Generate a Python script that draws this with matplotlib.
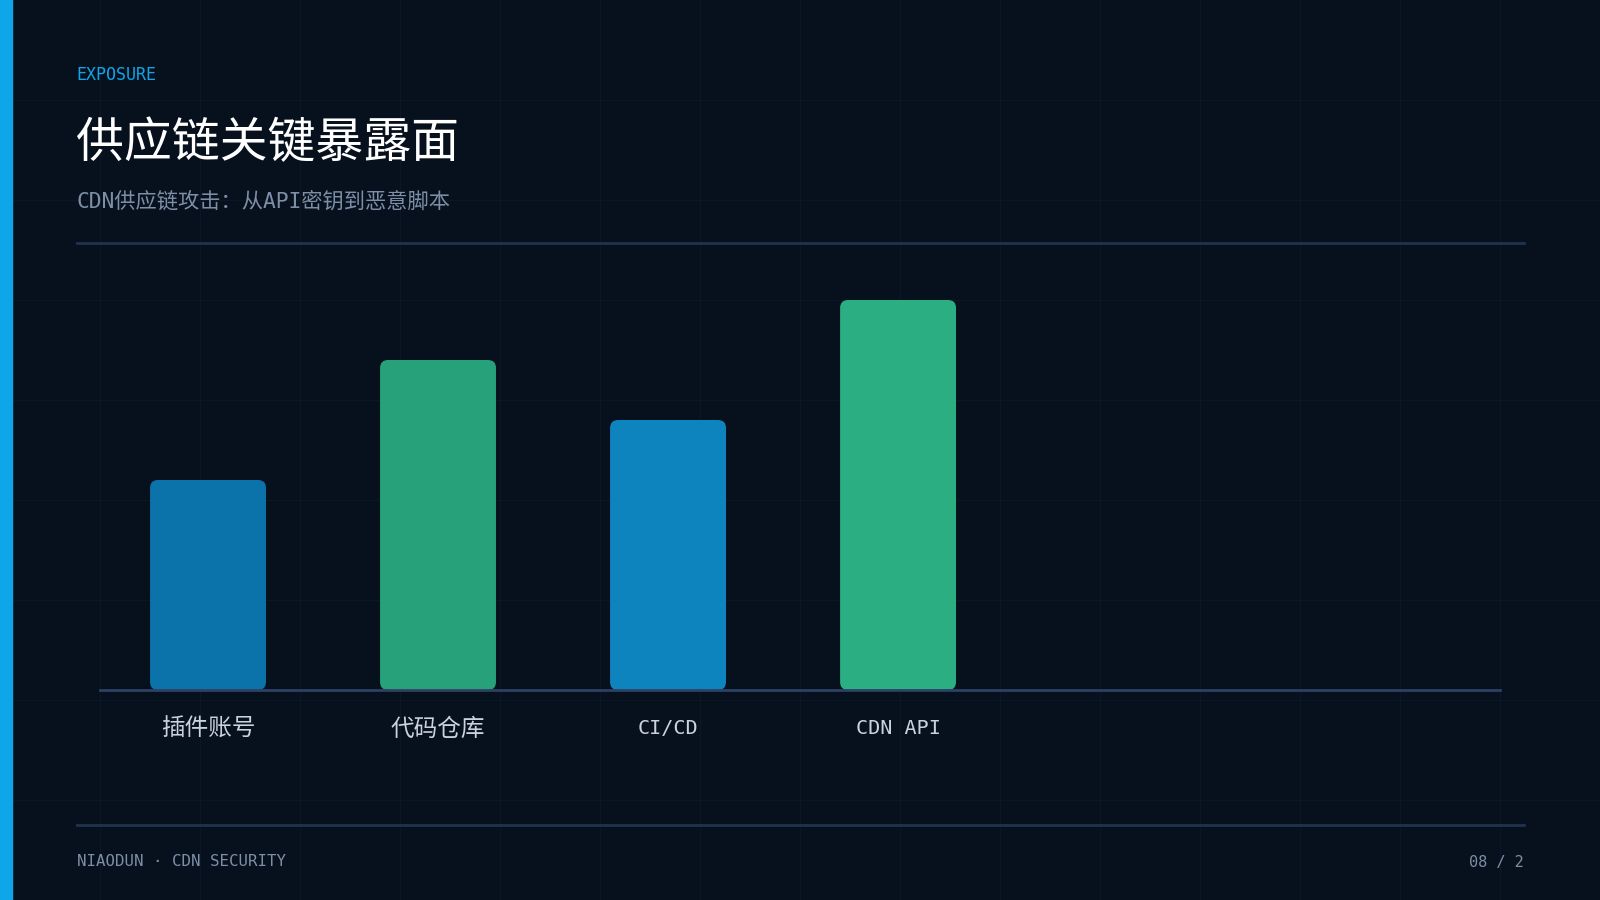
import matplotlib
matplotlib.use("Agg")
import matplotlib.pyplot as plt
from matplotlib.patches import FancyBboxPatch, Rectangle
from matplotlib.lines import Line2D

# fonts: mono latin first, CJK fallback
plt.rcParams['font.family'] = ['DejaVu Sans Mono', 'Noto Sans CJK SC']

# data
categories = ['插件账号', '代码仓库', 'CI/CD', 'CDN API']
values = [35, 55, 45, 65]
bar_colors = ['#0b73aa', '#27a17a', '#0e84be', '#2aae82']

kicker = 'EXPOSURE'
title = '供应链关键暴露面'
subtitle = 'CDN供应链攻击：从API密钥到恶意脚本'
footer_left = 'NIAODUN · CDN SECURITY'
footer_right = '08 / 2'

BG = '#07101d'
W, H = 1600, 900

fig = plt.figure(figsize=(16, 9), dpi=100)
fig.patch.set_facecolor(BG)


def fx(x):
    return x / W


def fy(y):
    return 1 - y / H


# faint background grid, every 100px
for gx in range(100, W, 100):
    fig.add_artist(Line2D([fx(gx)] * 2, [0, 1], color='#0b1726', lw=1, zorder=0))
for gy in range(100, H, 100):
    fig.add_artist(Line2D([0, 1], [fy(gy)] * 2, color='#0b1726', lw=1, zorder=0))

# left accent stripe
fig.add_artist(Rectangle((0, 0), fx(12), 1, transform=fig.transFigure,
                         color='#0ea5e9', zorder=1))

# header
fig.text(fx(76), fy(75), kicker, color='#0ea5e9', fontsize=12, va='center', ha='left')
fig.text(fx(76), fy(144), title, color='#ffffff', fontsize=34.5, va='center', ha='left')
fig.text(fx(77), fy(201), subtitle, color='#7d8ea6', fontsize=15.3, va='center', ha='left')
fig.add_artist(Line2D([fx(77), fx(1524)], [fy(243)] * 2, color='#1f3350', lw=2))

# footer
fig.add_artist(Line2D([fx(77), fx(1524)], [fy(825)] * 2, color='#1f3350', lw=2))
fig.text(fx(77), fy(862), footer_left, color='#7d8ea6', fontsize=11.3, va='center', ha='left')
fig.text(fx(1524), fy(862), footer_right, color='#7d8ea6', fontsize=11, va='center', ha='right')

# chart area
ax_left, ax_right, ax_bottom, ax_top = 100, 1500, 690, 270
ax = fig.add_axes([fx(ax_left), fy(ax_bottom), (ax_right - ax_left) / W, (ax_bottom - ax_top) / H])
ax.set_facecolor('none')
xmin, xmax = -0.4696, 5.617
ymax = 70
ax.set_xlim(xmin, xmax)
ax.set_ylim(0, ymax)
ax.axis('off')

px_x = (ax_right - ax_left) / (xmax - xmin)
px_y = (ax_bottom - ax_top) / ymax
radius_px = 8

x = list(range(len(categories)))
bars = ax.bar(x, values, width=0.504, color=bar_colors)
for b in bars:
    bx, by, bw, bh = b.get_x(), b.get_y(), b.get_width(), b.get_height()
    fc = b.get_facecolor()
    b.remove()
    ax.add_patch(FancyBboxPatch((bx, by), bw, bh,
                                boxstyle=f'round,pad=0,rounding_size={radius_px / px_x}',
                                mutation_aspect=px_x / px_y,
                                fc=fc, ec='none', zorder=2))

ax.axhline(0, color='#2e4164', lw=2, zorder=3, clip_on=False)

for xi, lab in zip(x, categories):
    size = 14.5 if lab.isascii() else 17
    ax.text(xi, -39 / px_y, lab, color='#c9d2de', fontsize=size, ha='center', va='center')

fig.savefig('out.png', dpi=100, facecolor=BG)
